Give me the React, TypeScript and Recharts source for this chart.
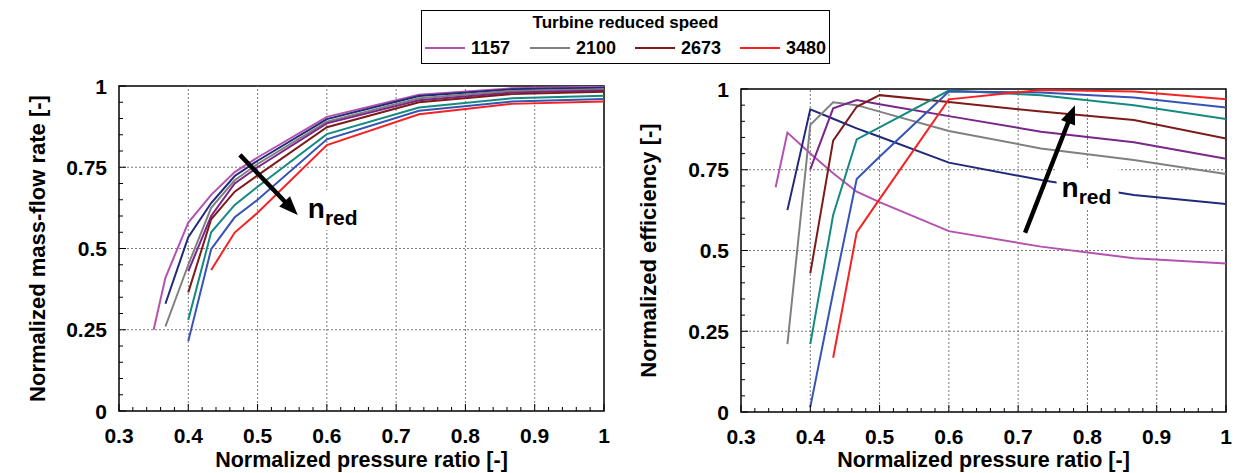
import React from 'react';
import { LineChart, Line, XAxis, YAxis, ReferenceLine, ReferenceArea, ReferenceDot } from 'recharts';

// normalized pressure ratio at the measured operating points
const pressureRatio = [0.35, 0.367, 0.4, 0.433, 0.467, 0.5, 0.6, 0.733, 0.867, 1.0];

// turbine reduced speed lines (only four are named in the legend)
const speedNames = ['1157', 'n2', '2100', 'n4', '2673', 'n6', 'n7', '3480'];
const speedColors = ['#b452b0', '#1f2a78', '#808080', '#7a2588', '#7d1b1b', '#148a80', '#3654b4', '#f42222'];
const legendSpeeds = ['1157', '2100', '2673', '3480'];

// normalized mass-flow rate
const flowS1 = [0.25, 0.41, 0.58, 0.665, 0.735, 0.78, 0.905, 0.973, 0.993, 0.998];
const flowS2 = [null, 0.33, 0.535, 0.64, 0.723, 0.77, 0.898, 0.969, 0.99, 0.995];
const flowS3 = [null, 0.26, 0.45, 0.625, 0.71, 0.76, 0.89, 0.962, 0.985, 0.99];
const flowS4 = [null, null, 0.43, 0.6, 0.7, 0.75, 0.885, 0.956, 0.98, 0.986];
const flowS5 = [null, null, 0.365, 0.59, 0.675, 0.725, 0.873, 0.95, 0.975, 0.982];
const flowS6 = [null, null, 0.28, 0.55, 0.634, 0.69, 0.852, 0.934, 0.962, 0.97];
const flowS7 = [null, null, 0.215, 0.498, 0.596, 0.65, 0.836, 0.924, 0.952, 0.96];
const flowS8 = [null, null, null, 0.434, 0.549, 0.61, 0.818, 0.913, 0.945, 0.952];

// normalized efficiency
const effS1 = [0.696, 0.865, 0.8, 0.739, 0.682, 0.65, 0.56, 0.512, 0.476, 0.46];
const effS2 = [null, 0.625, 0.937, 0.908, 0.878, 0.852, 0.772, 0.718, 0.672, 0.644];
const effS3 = [null, 0.21, 0.889, 0.959, 0.95, 0.93, 0.87, 0.816, 0.78, 0.737];
const effS4 = [null, null, 0.751, 0.94, 0.966, 0.953, 0.916, 0.868, 0.835, 0.784];
const effS5 = [null, null, 0.429, 0.84, 0.945, 0.981, 0.96, 0.93, 0.904, 0.847];
const effS6 = [null, null, 0.21, 0.61, 0.844, 0.881, 0.995, 0.981, 0.95, 0.907];
const effS7 = [null, null, 0.015, 0.37, 0.721, 0.79, 0.992, 0.989, 0.974, 0.943];
const effS8 = [null, null, null, 0.168, 0.556, 0.659, 0.968, 0.997, 0.992, 0.968];

const flowSeries = [flowS1, flowS2, flowS3, flowS4, flowS5, flowS6, flowS7, flowS8];
const effSeries = [effS1, effS2, effS3, effS4, effS5, effS6, effS7, effS8];

// axes
const xMajor = [0.3, 0.4, 0.5, 0.6, 0.7, 0.8, 0.9, 1];
const yMajor = [0, 0.25, 0.5, 0.75, 1];
const xTicks = Array.from({ length: 36 }, (_, i) => Math.round((0.3 + i * 0.02) * 100) / 100);
const yTicks = Array.from({ length: 21 }, (_, i) => Math.round(i * 0.05 * 100) / 100);
const xGrid = [0.4, 0.5, 0.6, 0.7, 0.8, 0.9];
const yGrid = [0.25, 0.5, 0.75];

const FONT = '"Liberation Sans", Arial, sans-serif';

const isMajor = (v: number, list: number[]) => list.some((m) => Math.abs(m - v) < 1e-6);

const XTick = (props: any) => {
  const { x, y, payload } = props;
  const major = isMajor(payload.value, xMajor);
  return (
    <g>
      <line x1={x} x2={x} y1={y} y2={y - (major ? 7 : 4)} stroke="#000" strokeWidth={1} />
      {major && (
        <text x={x} y={y + 32} textAnchor="middle" fontSize={21} fontWeight="bold" fontFamily={FONT} fill="#000">
          {payload.value === 1 ? '1' : payload.value.toFixed(1)}
        </text>
      )}
    </g>
  );
};

const YTick = (props: any) => {
  const { x, y, payload } = props;
  const major = isMajor(payload.value, yMajor);
  return (
    <g>
      <line x1={x} x2={x + (major ? 7 : 4)} y1={y} y2={y} stroke="#000" strokeWidth={1} />
      {major && (
        <text x={x - 12} y={y} dy="0.36em" textAnchor="end" fontSize={21} fontWeight="bold" fontFamily={FONT} fill="#000">
          {String(payload.value)}
        </text>
      )}
    </g>
  );
};

const Arrow = (p: any) => {
  const { x1, y1, x2, y2 } = p;
  const dx = x2 - x1;
  const dy = y2 - y1;
  const len = Math.hypot(dx, dy) || 1;
  const ux = dx / len;
  const uy = dy / len;
  const head = 19;
  const half = 7.5;
  const bx = x2 - ux * head;
  const by = y2 - uy * head;
  return (
    <g>
      <line x1={x1} y1={y1} x2={bx + ux * 2} y2={by + uy * 2} stroke="#000" strokeWidth={4.5} />
      <polygon points={`${x2},${y2} ${bx - uy * half},${by + ux * half} ${bx + uy * half},${by - ux * half}`} fill="#000" />
    </g>
  );
};

const NRed = (p: any) => {
  const { cx, cy } = p;
  return (
    <g>
      <rect x={cx - 5} y={cy - 28} width={62} height={40} fill="#fff" />
      <text x={cx} y={cy} fontSize={28} fontWeight="bold" fontFamily={FONT} fill="#000">
        n
        <tspan fontSize={21} dy={7}>red</tspan>
      </text>
    </g>
  );
};

type PanelProps = {
  series: (number | null)[][];
  yTitle: string;
  width: number;
  margin: { top: number; right: number; left: number; bottom: number };
  yAxisWidth: number;
  xAxisHeight: number;
  yTitleOffset: number;
  arrow: { x: number; y: number }[];
  labelAt: { x: number; y: number };
};

const Panel = (props: PanelProps) => {
  return (
    <LineChart width={props.width} height={473} margin={props.margin}>
      <XAxis
        type="number"
        dataKey="x"
        domain={[0.3, 1]}
        ticks={xTicks}
        interval={0}
        allowDataOverflow
        axisLine={false}
        tickLine={false}
        tickSize={0}
        tickMargin={0}
        height={props.xAxisHeight}
        tick={(t: any) => <XTick {...t} />}
        label={{
          value: 'Normalized pressure ratio [-]',
          position: 'insideBottom',
          offset: 6,
          style: { fontSize: 21.5, fontWeight: 'bold', fontFamily: FONT, fill: '#000' },
        }}
      />
      <YAxis
        type="number"
        dataKey="y"
        domain={[0, 1]}
        ticks={yTicks}
        interval={0}
        allowDataOverflow
        axisLine={false}
        tickLine={false}
        tickSize={0}
        tickMargin={0}
        width={props.yAxisWidth}
        tick={(t: any) => <YTick {...t} />}
        label={{
          value: props.yTitle,
          angle: -90,
          position: 'insideLeft',
          offset: props.yTitleOffset,
          style: { textAnchor: 'middle', fontSize: 22, fontWeight: 'bold', fontFamily: FONT, fill: '#000' },
        }}
      />
      {xGrid.map((v) => (
        <ReferenceLine key={'gx' + v} x={v} stroke="#7a7a7a" strokeDasharray="2 2" strokeWidth={1} />
      ))}
      {yGrid.map((v) => (
        <ReferenceLine key={'gy' + v} y={v} stroke="#7a7a7a" strokeDasharray="2 2" strokeWidth={1} />
      ))}
      {props.series.map((vals, i) => (
        <Line
          key={speedNames[i]}
          name={speedNames[i]}
          data={pressureRatio
            .map((x, j) => ({ x, y: vals[j] }))
            .filter((d) => d.y !== null)}
          dataKey="y"
          type="linear"
          stroke={speedColors[i]}
          strokeWidth={2}
          dot={false}
          isAnimationActive={false}
        />
      ))}
      <ReferenceLine segment={props.arrow} shape={(p: any) => <Arrow {...p} />} />
      <ReferenceDot x={props.labelAt.x} y={props.labelAt.y} r={0} shape={(p: any) => <NRed {...p} />} />
      <ReferenceArea x1={0.3} x2={1} y1={0} y2={1} fill="none" stroke="#000" strokeWidth={1.5} />
    </LineChart>
  );
};

const Legend = () => (
  <div
    style={{
      position: 'absolute',
      left: 421,
      top: 10,
      width: 409,
      height: 54,
      boxSizing: 'border-box',
      border: '1.5px solid #000',
      background: '#fff',
      fontFamily: FONT,
      fontWeight: 'bold',
      color: '#000',
    }}
  >
    <div style={{ position: 'absolute', left: 0, right: 0, top: 3, textAlign: 'center', fontSize: 17, lineHeight: '17px' }}>
      Turbine reduced speed
    </div>
    <div style={{ position: 'absolute', left: 3, top: 28, display: 'flex' }}>
      {legendSpeeds.map((s) => {
        const idx = speedNames.indexOf(s);
        return (
          <div key={s} style={{ width: 105, display: 'flex', alignItems: 'center', height: 18 }}>
            <div style={{ width: 40, height: 2, background: speedColors[idx], marginRight: 6 }} />
            <span style={{ fontSize: 18, lineHeight: '18px' }}>{s}</span>
          </div>
        );
      })}
    </div>
  </div>
);

export default function App() {
  return (
    <div style={{ position: 'absolute', left: 0, top: 0, width: 1235, height: 473, background: '#fff', fontFamily: FONT }}>
      <div style={{ position: 'absolute', left: 0, top: 0 }}>
        <Panel
          series={flowSeries}
          yTitle="Normalized mass-flow rate [-]"
          width={620}
          margin={{ top: 86, right: 16, left: 0, bottom: 0 }}
          yAxisWidth={119}
          xAxisHeight={62}
          yTitleOffset={37}
          arrow={[
            { x: 0.4745, y: 0.788 },
            { x: 0.558, y: 0.603 },
          ]}
          labelAt={{ x: 0.5725, y: 0.594 }}
        />
      </div>
      <div style={{ position: 'absolute', left: 620, top: 0 }}>
        <Panel
          series={effSeries}
          yTitle="Normalized efficiency [-]"
          width={615}
          margin={{ top: 89, right: 9, left: 0, bottom: 0 }}
          yAxisWidth={121}
          xAxisHeight={61}
          yTitleOffset={28}
          arrow={[
            { x: 0.71, y: 0.555 },
            { x: 0.782, y: 0.95 },
          ]}
          labelAt={{ x: 0.7627, y: 0.667 }}
        />
      </div>
      <Legend />
    </div>
  );
}
